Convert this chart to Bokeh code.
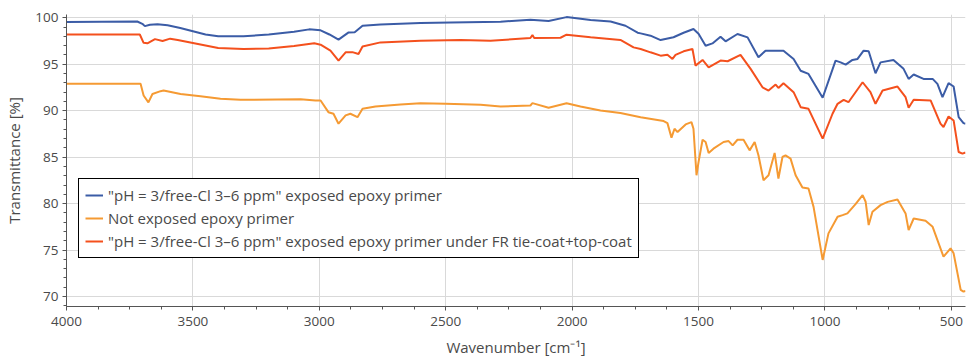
from bokeh.plotting import figure
from bokeh.models import Range1d, SingleIntervalTicker, Legend, LegendItem
from bokeh.embed import file_html
from bokeh.resources import INLINE

# ---- data ----
wn_blue = [4000, 3720, 3700, 3690, 3670, 3640, 3600, 3550, 3500, 3450, 3400, 3300, 3200, 3100,
           3040, 2995, 2960, 2924, 2884, 2860, 2829, 2758, 2600, 2480, 2283, 2165, 2093, 2022,
           1927, 1848, 1789, 1741, 1729, 1690, 1650, 1599, 1559, 1520, 1500, 1472, 1445, 1413,
           1393, 1346, 1306, 1263, 1235, 1164, 1124, 1096, 1065, 1009, 958, 938, 918, 891, 871,
           847, 827, 800, 780, 729, 689, 669, 649, 610, 574, 555, 535, 511, 491, 471, 452, 444]
t_blue = [99.55, 99.6, 99.35, 99.1, 99.25, 99.3, 99.2, 98.9, 98.55, 98.2, 98.0, 98.0, 98.2, 98.5,
          98.75, 98.65, 98.2, 97.64, 98.42, 98.45, 99.14, 99.28, 99.43, 99.5, 99.57, 99.79, 99.65,
          100.07, 99.75, 99.6, 99.14, 98.39, 98.32, 98.07, 97.6, 97.9, 98.39, 98.79, 98.28, 96.99,
          97.24, 97.96, 97.46, 98.25, 97.89, 95.74, 96.46, 96.46, 95.57, 94.3, 93.96, 91.39, 95.39,
          95.2, 94.96, 95.46, 95.57, 96.46, 96.39, 94.03, 95.2, 95.46, 94.5, 93.42, 93.89, 93.42,
          93.42, 92.89, 91.45, 92.96, 92.6, 89.3, 88.66, 88.6]

wn_red = [4000, 3710, 3695, 3680, 3650, 3620, 3590, 3560, 3400, 3300, 3200, 3100, 3020, 2995,
          2956, 2924, 2896, 2869, 2845, 2829, 2758, 2600, 2441, 2323, 2165, 2157, 2150, 2046,
          2022, 1927, 1809, 1757, 1729, 1690, 1650, 1623, 1603, 1591, 1559, 1524, 1512, 1484,
          1460, 1413, 1385, 1334, 1294, 1247, 1223, 1195, 1184, 1164, 1124, 1096, 1065, 1009,
          970, 950, 926, 907, 851, 820, 800, 772, 713, 681, 669, 649, 582, 543, 531, 511, 491,
          471, 456, 444]
t_red = [98.2, 98.2, 97.3, 97.25, 97.7, 97.5, 97.75, 97.6, 96.75, 96.65, 96.7, 96.95, 97.25, 97.1,
         96.46, 95.39, 96.28, 96.3, 96.1, 96.9, 97.35, 97.53, 97.61, 97.53, 97.82, 98.14, 97.82,
         97.85, 98.18, 97.89, 97.61, 96.81, 96.64, 96.28, 95.92, 96.03, 95.57, 96.0, 96.39, 96.64,
         94.85, 95.46, 94.67, 95.39, 95.32, 96.0, 94.5, 92.52, 92.17, 92.81, 92.45, 92.96, 91.99,
         90.38, 90.2, 86.99, 89.67, 90.74, 91.17, 90.91, 93.06, 92.0, 90.74, 92.17, 92.6, 91.45,
         90.31, 91.17, 91.1, 88.6, 88.24, 89.38, 88.95, 85.55, 85.38, 85.5]

wn_orange = [4000, 3707, 3695, 3676, 3660, 3628, 3616, 3549, 3470, 3391, 3312, 3074, 3015, 2995,
             2964, 2944, 2924, 2896, 2877, 2849, 2829, 2778, 2679, 2600, 2501, 2362, 2283, 2165,
             2157, 2093, 2022, 1967, 1888, 1809, 1729, 1638, 1623, 1607, 1595, 1583, 1551, 1528,
             1520, 1508, 1500, 1484, 1472, 1460, 1441, 1401, 1381, 1365, 1346, 1322, 1298, 1278,
             1263, 1243, 1223, 1199, 1184, 1168, 1156, 1136, 1116, 1089, 1065, 1045, 1009, 986,
             950, 930, 911, 879, 851, 839, 827, 812, 780, 752, 713, 681, 669, 649, 602, 574, 531,
             503, 491, 463, 452, 444]
t_orange = [92.89, 92.89, 91.63, 90.9, 91.8, 92.1, 92.17, 91.8, 91.56, 91.28, 91.17, 91.24, 91.1,
            91.1, 89.84, 89.67, 88.6, 89.49, 89.67, 89.3, 90.2, 90.45, 90.67, 90.81, 90.74, 90.63,
            90.45, 90.56, 90.81, 90.31, 90.81, 90.45, 90.02, 89.74, 89.3, 88.88, 88.66, 87.1, 88.06,
            87.7, 88.52, 88.77, 88.06, 83.05, 84.47, 86.87, 86.63, 85.45, 85.91, 86.63, 86.73, 86.27,
            86.87, 86.87, 85.73, 86.63, 85.2, 82.52, 83.05, 85.45, 82.7, 85.02, 85.2, 84.84, 83.05,
            81.73, 81.62, 79.65, 73.94, 76.8, 78.58, 78.76, 78.95, 79.94, 80.91, 80.2, 77.69, 79.13,
            79.84, 80.19, 80.45, 78.95, 77.15, 78.4, 78.15, 77.5, 74.29, 75.19, 74.65, 70.72, 70.54,
            70.6]

labels = ['"pH = 3/free-Cl 3\u20136 ppm" exposed epoxy primer',
          'Not exposed epoxy primer',
          '"pH = 3/free-Cl 3\u20136 ppm" exposed epoxy primer under FR tie-coat+top-coat']
colors = ["#3b5ca6", "#f59a33", "#f4501d"]

FONT = "Open Sans"
TXT = "#4a4a4a"

p = figure(width=969, height=359, output_backend="svg", toolbar_location=None,
           x_range=Range1d(4000, 444), y_range=Range1d(68.93, 100.35),
           min_border_left=66, min_border_right=4, min_border_top=14, min_border_bottom=52)
p.outline_line_color = None
p.background_fill_color = "white"
p.border_fill_color = "white"

r_blue = p.line(wn_blue, t_blue, line_color=colors[0], line_width=2)
r_orange = p.line(wn_orange, t_orange, line_color=colors[1], line_width=2)
r_red = p.line(wn_red, t_red, line_color=colors[2], line_width=2)

p.xaxis.ticker = SingleIntervalTicker(interval=500, num_minor_ticks=4)
p.yaxis.ticker = SingleIntervalTicker(interval=5, num_minor_ticks=5)

for ax in (p.xaxis[0], p.yaxis[0]):
    ax.axis_line_color = "#555555"
    ax.major_tick_line_color = "#555555"
    ax.minor_tick_line_color = "#555555"
    ax.major_tick_out = 4
    ax.major_tick_in = 0
    ax.minor_tick_out = 3
    ax.minor_tick_in = 0
    ax.major_label_text_font = FONT
    ax.major_label_text_font_size = "13.5px"
    ax.major_label_text_color = TXT
    ax.axis_label_text_font = FONT
    ax.axis_label_text_font_size = "15px"
    ax.axis_label_text_font_style = "normal"
    ax.axis_label_text_color = TXT

p.xaxis.axis_label = "Wavenumber [cm\u207b\u00b9]"
p.yaxis.axis_label = "Transmittance [%]"
p.xaxis.major_label_standoff = 6
p.yaxis.major_label_standoff = 4
p.xaxis.axis_label_standoff = 8
p.yaxis.axis_label_standoff = 8

p.xgrid.grid_line_color = "#d9d9d9"
p.ygrid.grid_line_color = "#d9d9d9"

legend = Legend(items=[LegendItem(label=labels[0], renderers=[r_blue]),
                       LegendItem(label=labels[1], renderers=[r_orange]),
                       LegendItem(label=labels[2], renderers=[r_red])],
                location=(12, 48))
legend.label_text_font = FONT
legend.label_text_font_size = "15px"
legend.label_text_color = TXT
legend.label_height = 18
legend.glyph_height = 18
legend.glyph_width = 18
legend.label_standoff = 5
legend.spacing = 3
legend.padding = 6
legend.margin = 0
legend.border_line_color = "black"
legend.border_line_alpha = 1.0
legend.border_line_width = 1.5
legend.background_fill_alpha = 1
p.add_layout(legend)

open("out.html", "w").write(file_html(p, INLINE))
